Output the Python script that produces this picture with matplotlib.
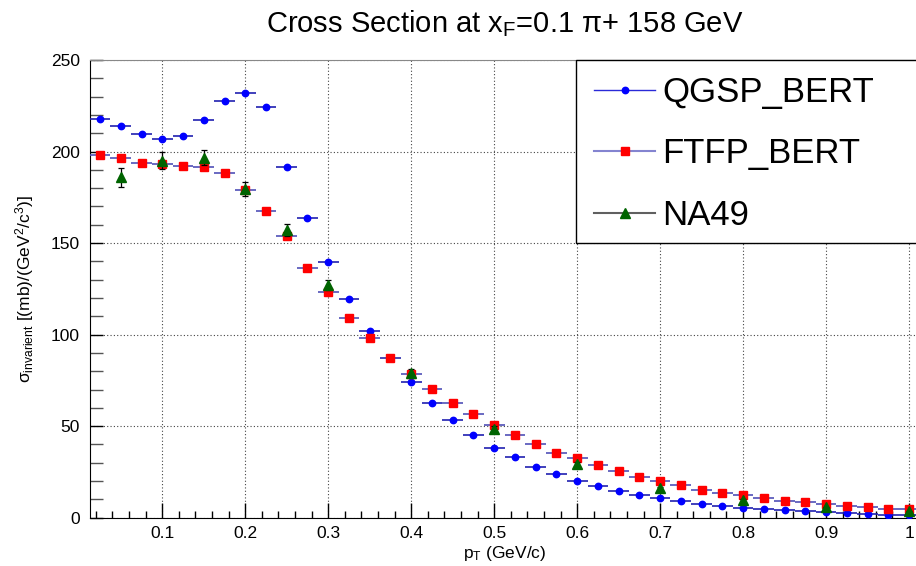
import matplotlib
matplotlib.use('Agg')
import matplotlib.pyplot as plt
from matplotlib.lines import Line2D
from matplotlib.patches import Rectangle
from matplotlib.ticker import MultipleLocator

plt.rcParams['font.family'] = ['Liberation Sans', 'DejaVu Sans']
plt.rcParams['mathtext.fontset'] = 'custom'
plt.rcParams['mathtext.rm'] = 'Liberation Sans'
plt.rcParams['mathtext.it'] = 'Liberation Sans'
plt.rcParams['mathtext.bf'] = 'Liberation Sans:bold'

# pT bin centres (GeV/c), bin width 0.025
pt_mc = [0.025, 0.05, 0.075, 0.1, 0.125, 0.15, 0.175, 0.2, 0.225, 0.25,
         0.275, 0.3, 0.325, 0.35, 0.375, 0.4, 0.425, 0.45, 0.475, 0.5,
         0.525, 0.55, 0.575, 0.6, 0.625, 0.65, 0.675, 0.7, 0.725, 0.75,
         0.775, 0.8, 0.825, 0.85, 0.875, 0.9, 0.925, 0.95, 0.975, 1.0]
pt_halfwidth = 0.0125

qgsp_bert = [217.8, 214.0, 209.8, 206.9, 208.4, 217.2, 227.5, 232.2, 224.5, 191.6,
             163.9, 139.4, 119.2, 102.0, 87.3, 74.2, 62.8, 53.3, 45.3, 38.2,
             33.1, 27.7, 23.9, 20.2, 17.1, 14.6, 12.4, 10.5, 9.1, 7.6,
             6.6, 5.5, 4.9, 4.4, 3.4, 2.9, 2.6, 2.2, 1.6, 1.4]

ftfp_bert = [198.1, 196.7, 194.0, 193.2, 192.3, 191.6, 188.1, 179.0, 167.6, 153.6,
             136.6, 123.5, 109.3, 98.4, 87.2, 78.6, 70.4, 62.6, 56.6, 50.4,
             45.1, 40.2, 35.5, 32.4, 28.9, 25.5, 22.0, 20.2, 17.6, 15.4,
             13.6, 12.4, 10.8, 9.3, 8.4, 7.5, 6.4, 5.6, 4.9, 4.5]

pt_na49 = [0.05, 0.1, 0.15, 0.2, 0.25, 0.3, 0.4, 0.5, 0.6, 0.7, 0.8, 0.9, 1.0]
na49 = [186.0, 195.0, 196.7, 179.6, 157.2, 127.2, 79.0, 48.6, 29.3, 16.2, 9.8, 5.8, 3.4]
na49_err = [5.1, 4.8, 4.2, 4.0, 3.2, 2.8, 2.0, 1.5, 1.0, 0.7, 0.5, 0.3, 0.2]

xticks = [0.1, 0.2, 0.3, 0.4, 0.5, 0.6, 0.7, 0.8, 0.9, 1.0]
xtick_labels = ['0.1', '0.2', '0.3', '0.4', '0.5', '0.6', '0.7', '0.8', '0.9', '1']
yticks = [0, 50, 100, 150, 200, 250]

fig = plt.figure(figsize=(9.16, 5.66), dpi=100)
ax = fig.add_axes([0.0979, 0.0853, 0.9058, 0.8087])

ax.errorbar(pt_mc, qgsp_bert, xerr=pt_halfwidth, fmt='o', ms=4.6,
            color='#0000ff', ecolor='#2020b0', elinewidth=1.2, capsize=0, zorder=3)
ax.errorbar(pt_mc, ftfp_bert, xerr=pt_halfwidth, fmt='s', ms=6.2,
            color='#ff0000', ecolor='#5050b8', elinewidth=1.2, capsize=0, zorder=4)
ax.errorbar(pt_na49, na49, yerr=na49_err, fmt='^', ms=7.2,
            color='#006400', ecolor='black', elinewidth=0.9, capsize=2, capthick=0.9, zorder=5)

ax.set_xlim(0.0125, 1.0125)
ax.set_ylim(0, 250)
ax.set_xticks(xticks)
ax.set_xticklabels(xtick_labels)
ax.set_yticks(yticks)
ax.xaxis.set_minor_locator(MultipleLocator(0.02))
ax.yaxis.set_minor_locator(MultipleLocator(10))
ax.tick_params(axis='both', which='both', direction='in', labelsize=12.5,
               top=False, right=False)
ax.tick_params(axis='x', which='major', length=11, width=1, pad=6)
ax.tick_params(axis='x', which='minor', length=5, width=1)
ax.tick_params(axis='y', which='major', length=9.5, width=1, pad=7)
ax.tick_params(axis='y', which='minor', length=9.5, width=1, color='#555555')
ax.grid(True, which='major', linestyle=(0, (1, 2)), color='#444444', linewidth=0.8)
ax.set_axisbelow(True)
ax.spines['top'].set_color('#888888')
ax.spines['right'].set_visible(False)

ax.set_title('Cross Section at x$_{F}$=0.1 \u03c0+ 158 GeV', fontsize=21, pad=20)
ax.set_xlabel('p$_{T}$ (GeV/c)', fontsize=12.5, labelpad=2)
ax.set_ylabel('\u03c3$_{invarient}$ [(mb)/(GeV$^{2}$/c$^{3}$)]', fontsize=12.5, labelpad=11)

# legend box
ax.add_patch(Rectangle((0.5861, 0.601), 0.45, 0.399, transform=ax.transAxes,
                       facecolor='white', edgecolor='black', linewidth=1.0,
                       clip_on=False, zorder=6))
handles = [
    Line2D([], [], color='#2a2ad8', marker='o', ms=4.6, mfc='#0000ff', mec='#0000ff', lw=1),
    Line2D([], [], color='#8484d0', marker='s', ms=6.2, mfc='#ff0000', mec='#ff0000', lw=1.5),
    Line2D([], [], color='#606060', marker='^', ms=7.2, mfc='#006400', mec='#006400', lw=1.5),
]
leg = ax.legend(handles, ['QGSP_BERT', 'FTFP_BERT', 'NA49'], loc='upper left',
                bbox_to_anchor=(0.6078, 0.965), frameon=False, fontsize=25,
                borderpad=0, borderaxespad=0, handlelength=1.76, handletextpad=0.2,
                labelspacing=0.82, numpoints=1)
leg.set_zorder(7)

fig.savefig('out.png', dpi=100)
